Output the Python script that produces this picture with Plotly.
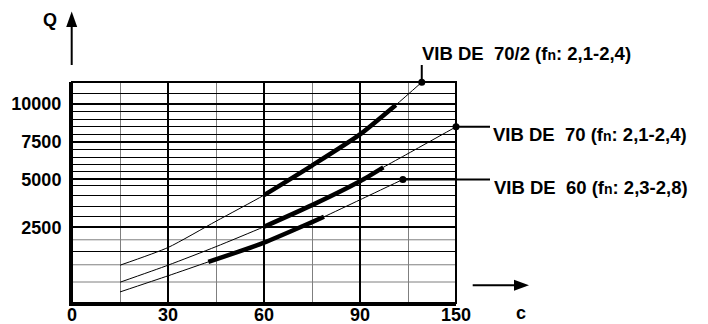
import plotly.graph_objects as go

# ---------------- data ----------------
# x axis (c): evenly spaced grid, the last column edge is labelled 150
x_tickvals = [0, 30, 60, 90, 120]
x_ticktext = ["0", "30", "60", "90", "150"]
x_minor = [15, 45, 75, 105]

# y axis (Q): non-linear paper scale, given as height (0-100) of the grid
y_tickvals = [34.2, 55.9, 73.0, 90.0]
y_ticktext = ["2500", "5000", "7500", "10000"]
y_thin_black = [23.2, 39.15, 43.8, 48.6, 53.1, 59.45, 62.75, 66.0, 69.5,
                76.4, 79.85, 83.2, 86.6, 94.9]
y_thin_gray = [9.5, 17.3, 28.6]

# curves (c, Q-height)
c_70_2 = [15, 30, 45, 60, 75, 90, 101.2, 109.3]
q_70_2 = [17.1, 25.1, 37.0, 48.8, 62.2, 76.3, 89.6, 99.9]
thick_70_2 = (60, 101.2)

c_70 = [15, 30, 45, 60, 75, 90, 97.3, 105, 120]
q_70 = [9.4, 17.1, 25.5, 34.5, 44.3, 55.1, 61.4, 67.6, 79.7]
thick_70 = (60, 97.3)

c_60 = [15, 30, 42.6, 60, 75, 78.75, 90, 103.4]
q_60 = [5.0, 12.3, 18.6, 27.3, 36.6, 39.0, 46.7, 55.9]
thick_60 = (42.6, 78.75)

FN = "f<span style='font-size:14px'>n</span>"
label_70_2 = "VIB DE\u00a0\u00a070/2 (" + FN + ": 2,1-2,4)"
label_70 = "VIB DE\u00a0\u00a070 (" + FN + ": 2,1-2,4)"
label_60 = "VIB DE\u00a0\u00a060 (" + FN + ": 2,3-2,8)"

# ---------------- layout geometry ----------------
W, H = 708, 324
OFF = 8                      # page body margin of the html page
L, T = 72 - OFF, 82 - OFF
PW, PH = 384, 220.7
R = W - L - PW
B = H - T - PH
XMAX, YMAX = 120, 100
FONT = dict(family="Arial, Liberation Sans, sans-serif", size=18, color="black", weight="bold")
LFONT = dict(FONT, size=18.5)


def xp(px):
    return (px - OFF - L) / PW


def yp(py):
    return (T + PH - (py - OFF)) / PH


fig = go.Figure()


def add_curve(cs, qs, thick):
    fig.add_trace(go.Scatter(x=cs, y=qs, mode="lines", line=dict(color="black", width=1, shape="spline", smoothing=0.6),
                             hoverinfo="skip", showlegend=False))
    tc = [c for c in cs if thick[0] <= c <= thick[1]]
    tq = [q for c, q in zip(cs, qs) if thick[0] <= c <= thick[1]]
    fig.add_trace(go.Scatter(x=tc, y=tq, mode="lines", line=dict(color="black", width=4.5, shape="spline", smoothing=0.6),
                             hoverinfo="skip", showlegend=False))
    fig.add_trace(go.Scatter(x=[cs[-1]], y=[qs[-1]], mode="markers", marker=dict(color="black", size=7),
                             cliponaxis=False, hoverinfo="skip", showlegend=False))


add_curve(c_70_2, q_70_2, thick_70_2)
add_curve(c_70, q_70, thick_70)
add_curve(c_60, q_60, thick_60)

shapes = []
for h in y_thin_gray:
    shapes.append(dict(type="line", xref="x", yref="y", x0=0, x1=XMAX, y0=h, y1=h,
                       line=dict(color="#7f7f7f", width=1), layer="below"))
# border (top/right)
shapes.append(dict(type="rect", xref="paper", yref="paper", x0=0, x1=1, y0=0, y1=1,
                   line=dict(color="black", width=2), layer="above"))

# leaders from curve end dots
shapes.append(dict(type="line", xref="paper", yref="paper",
                   x0=c_70_2[-1] / XMAX, x1=c_70_2[-1] / XMAX, y0=q_70_2[-1] / YMAX, y1=yp(65),
                   line=dict(color="black", width=2)))
shapes.append(dict(type="line", xref="paper", yref="paper",
                   x0=c_70[-1] / XMAX, x1=xp(490), y0=q_70[-1] / YMAX, y1=q_70[-1] / YMAX,
                   line=dict(color="black", width=2)))
shapes.append(dict(type="line", xref="paper", yref="paper",
                   x0=c_60[-1] / XMAX, x1=xp(490), y0=q_60[-1] / YMAX, y1=q_60[-1] / YMAX,
                   line=dict(color="black", width=2)))

# Q axis arrow
shapes.append(dict(type="line", xref="paper", yref="paper", x0=xp(71.7), x1=xp(71.7), y0=yp(65), y1=yp(25),
                   line=dict(color="black", width=2)))
shapes.append(dict(type="path", xref="paper", yref="paper",
                   path=f"M {xp(71.7)},{yp(11.5)} L {xp(66.2)},{yp(27)} L {xp(77.2)},{yp(27)} Z",
                   fillcolor="black", line=dict(color="black", width=0)))
# c axis arrow
shapes.append(dict(type="line", xref="paper", yref="paper", x0=xp(472.7), x1=xp(517), y0=yp(285), y1=yp(285),
                   line=dict(color="black", width=2)))
shapes.append(dict(type="path", xref="paper", yref="paper",
                   path=f"M {xp(529)},{yp(285)} L {xp(514)},{yp(279.5)} L {xp(514)},{yp(290.5)} Z",
                   fillcolor="black", line=dict(color="black", width=0)))

annotations = [
    dict(text="Q", xref="paper", yref="paper", x=xp(50), y=yp(20), showarrow=False, font=FONT,
         xanchor="center", yanchor="middle"),
    dict(text="c", xref="paper", yref="paper", x=xp(521), y=yp(313), showarrow=False, font=FONT,
         xanchor="center", yanchor="middle"),
    dict(text=label_70_2, xref="paper", yref="paper", x=c_70_2[-1] / XMAX, y=q_70_2[-1] / YMAX,
         xshift=-2, yshift=29, showarrow=False, font=LFONT, xanchor="left", yanchor="middle"),
    dict(text=label_70, xref="paper", yref="paper", x=c_70[-1] / XMAX, y=q_70[-1] / YMAX,
         xshift=35, yshift=-8, showarrow=False, font=LFONT, xanchor="left", yanchor="middle"),
    dict(text=label_60, xref="paper", yref="paper", x=c_60[-1] / XMAX, y=q_60[-1] / YMAX,
         xshift=(491.5 - OFF - L) - c_60[-1] / XMAX * PW, yshift=-8, showarrow=False, font=LFONT,
         xanchor="left", yanchor="middle"),
]

fig.update_layout(
    width=W, height=H,
    margin=dict(l=L, r=R, t=T, b=B, pad=0, autoexpand=False),
    plot_bgcolor="white", paper_bgcolor="white",
    shapes=shapes, annotations=annotations,
    xaxis=dict(range=[0, XMAX], tickmode="array", tickvals=x_tickvals, ticktext=x_ticktext,
               showgrid=True, gridcolor="black", gridwidth=2,
               minor=dict(tickmode="array", tickvals=x_minor, showgrid=True, gridcolor="#7f7f7f", gridwidth=1),
               showline=True, linecolor="black", linewidth=3, zeroline=False, automargin=False,
               ticks="", tickfont=FONT, ticklabelstandoff=-7, fixedrange=True),
    yaxis=dict(range=[0, YMAX], tickmode="array", tickvals=y_tickvals, ticktext=y_ticktext,
               showgrid=True, gridcolor="black", gridwidth=2,
               minor=dict(tickmode="array", tickvals=y_thin_black, showgrid=True, gridcolor="black", gridwidth=1),
               showline=True, linecolor="black", linewidth=3, zeroline=False, automargin=False,
               ticks="", tickfont=FONT, ticklabelstandoff=4, fixedrange=True),
)

fig.write_html("out.html")
